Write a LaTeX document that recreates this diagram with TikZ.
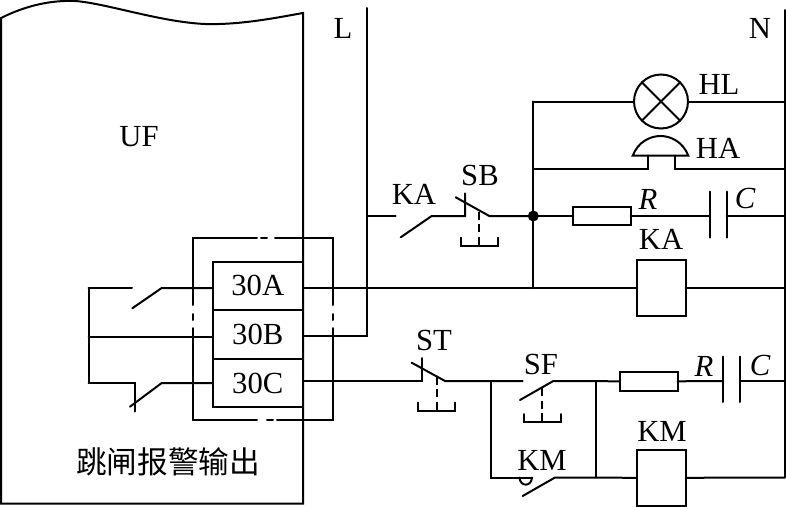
\documentclass[tikz,border=0pt]{standalone}
\usepackage{fontspec}
\setmainfont{Liberation Serif}
\newfontfamily\cjk{Noto Sans CJK SC}
\usetikzlibrary{positioning}
\tikzset{
  wire/.style={line width=1.5pt,line cap=round,line join=miter},
  blox/.style={draw,line width=1.5pt,inner sep=0pt,outer sep=0pt,font=\lblsize},
  lbl/.style={inner sep=0pt,font=\lblsize},
  pushrod/.style={line width=1.5pt,dash pattern=on 6pt off 3.5pt},
}
\newcommand{\lblsize}{\fontsize{23}{24}\selectfont}
\begin{document}
\begin{tikzpicture}[x=0.75pt,y=0.75pt,yscale=-1,xscale=1]
\useasboundingbox (0,0) rectangle (786,507);

% UF housing
\draw [wire] (1,503.5) -- (1,18) .. controls (25,6) and (50,0) .. (75,1) .. controls (105,3) and (160,22) .. (205,24) .. controls (240,25) and (275,18) .. (303,13) -- (303,503.5) -- cycle;

% broken frame round the terminals
\draw [wire] (193,305) -- (193,238) -- (257,238);
\draw [wire] (261,238) -- (267,238);
\draw [wire] (275,238) -- (333,238) -- (333,305);
\draw [wire] (333,314) -- (333,320);
\draw [wire] (333,328) -- (333,420) -- (277,420);
\draw [wire] (267,420) -- (273,420);
\draw [wire] (193,420) -- (257,420);
\draw [wire] (193,328) -- (193,420);
\draw [wire] (193,314) -- (193,320);

% Terminals
\node (t30A) [blox,minimum width=67.7pt,minimum height=36.4pt] at (257.8,285.9) {30A};
\node (t30B) [blox,minimum width=67.7pt,minimum height=36.4pt,below=0pt of t30A] {30B};
\node (t30C) [blox,minimum width=67.7pt,minimum height=36.4pt,below=0pt of t30B] {30C};

% Supply rails
\coordinate (Ltop) at (367,8);
\coordinate (Lend) at (367,336);
\coordinate (Ntop) at (784.5,10);
\coordinate (Nend) at (784.5,477.5);
\draw [wire] (Ltop) -- (Lend) -- (Lend -| t30B.east);
\draw [wire] (Ntop) -- (Nend);

% Left side contacts
\coordinate (comTop) at (88.7,288);
\coordinate (comMid) at (88.7,337);
\coordinate (comBot) at (88.7,383);
\coordinate (ncRod) at (135,383);
\coordinate (ncRodEnd) at (135,411.5);
\coordinate (noOpen) at (132,288);
\coordinate (noFree) at (132.3,308.3);
\coordinate (noHinge) at (161.7,288);
\coordinate (ncFree) at (130,406.7);
\coordinate (ncHinge) at (161.7,383);
\draw [wire] (comTop) -- (comBot);
\draw [wire] (comTop) -- (noOpen);
\draw [wire] (noFree) -- (noHinge) -- (noHinge -| t30A.west);
\draw [wire] (comMid) -- (comMid -| t30B.west);
\draw [wire] (comBot) -- (ncRod) -- (ncRodEnd);
\draw [wire] (ncFree) -- (ncHinge) -- (ncHinge -| t30C.west);

% Lamp and horn
\coordinate (busTop) at (533.3,101.5);
\coordinate (busDot) at (533.3,216);
\coordinate (busEnd) at (533.3,288);
\node (lampHL) [draw,line width=1.5pt,circle,inner sep=0pt,outer sep=0pt,minimum size=40.5pt] at (661,101.5) {};
\draw [wire] (lampHL.north west) -- (lampHL.south east);
\draw [wire] (lampHL.north east) -- (lampHL.south west);
\draw [wire] (busTop) -- (busEnd);
\draw [wire] (busTop) -- (lampHL.west);
\draw [wire] (lampHL.east) -- (lampHL.east -| Nend);
\coordinate (hornL) at (632.7,155.7);
\coordinate (hornR) at (688.3,155.7);
\coordinate (hornIn) at (647.7,155.7);
\coordinate (hornOut) at (675,155.7);
\coordinate (hornInLow) at (647.7,169);
\coordinate (hornOutLow) at (675,169);
\draw [wire] (hornL) .. controls (638,142) and (650,136) .. (660.5,136) .. controls (671,136) and (683,142) .. (hornR) -- cycle;
\draw [wire] (hornInLow -| busTop) -- (hornInLow) -- (hornIn);
\draw [wire] (hornOut) -- (hornOutLow) -- (hornOutLow -| Nend);

% KA row
\coordinate (kaOpen) at (395.7,216);
\coordinate (kaFree) at (400.7,237.3);
\coordinate (kaHinge) at (431.7,216);
\coordinate (sbTop) at (465,193.3);
\coordinate (sbFree) at (455.7,197.3);
\coordinate (sbEnd) at (489.3,216);
\coordinate (sbRod) at (479.3,211.7);
\coordinate (sbKnob) at (479.3,245.5);
\node (resKA) [blox,minimum width=43pt,minimum height=13.7pt] at (602,216) {};
\coordinate (capKA1) at (710,216);
\coordinate (capKA2) at (726.7,216);
\draw [wire] (Ltop |- kaOpen) -- (kaOpen);
\draw [wire] (kaFree) -- (kaHinge) -- (sbTop |- kaHinge) -- (sbTop);
\draw [wire] (sbFree) -- (sbEnd) -- (busDot);
\draw [pushrod] (sbRod) -- (sbKnob);
\draw [wire] (461,237.7) -- (461,245.5) -- (497.7,245.5) -- (497.7,237.7);
\fill (busDot) circle [radius=5.5];
\draw [wire] (busDot) -- (resKA.west);
\draw [wire] (resKA.east) -- (capKA1);
\draw [wire] (capKA1 |- 0,191.7) -- (capKA1 |- 0,237.7);
\draw [wire] (capKA2 |- 0,191.7) -- (capKA2 |- 0,237.7);
\draw [wire] (capKA2) -- (capKA2 -| Nend);

% 30A to coil KA
\node (coilKA) [blox,minimum width=36.3pt,minimum height=41.5pt] at (661.5,288) {};
\draw [wire] (busEnd -| t30A.east) -- (coilKA.west);
\draw [wire] (coilKA.east) -- (coilKA.east -| Nend);

% ST and SF row
\coordinate (stTop) at (421.7,358);
\coordinate (stLow) at (421.7,381);
\coordinate (stFree) at (411.7,362.7);
\coordinate (stEnd) at (445,381);
\coordinate (stRod) at (436.7,376.7);
\coordinate (stKnob) at (436.7,411);
\coordinate (kmJoin) at (490.7,381);
\coordinate (kmLow) at (490.7,477.5);
\coordinate (sfOpen) at (522.7,381);
\coordinate (sfFree) at (520,400);
\coordinate (sfHinge) at (553.3,381);
\coordinate (sfRod) at (542.3,388);
\coordinate (sfKnob) at (542.3,422);
\coordinate (rcJoin) at (595.7,381);
\coordinate (rcLow) at (595.7,477.5);
\node (resKM) [blox,minimum width=43.3pt,minimum height=14.5pt] at (648.8,381.3) {};
\coordinate (capKM1) at (723.3,381);
\coordinate (capKM2) at (740,381);
\draw [wire] (stLow -| t30C.east) -- (stLow) -- (stTop);
\draw [wire] (stFree) -- (stEnd) -- (sfOpen);
\draw [pushrod] (stRod) -- (stKnob);
\draw [wire] (418,402.7) -- (418,411) -- (455,411) -- (455,402.7);
\draw [wire] (sfFree) -- (sfHinge) -- (resKM.west);
\draw [pushrod] (sfRod) -- (sfKnob);
\draw [wire] (524.3,414) -- (524.3,422) -- (561,422) -- (561,414);
\draw [wire] (resKM.east) -- (capKM1);
\draw [wire] (capKM1 |- 0,356.7) -- (capKM1 |- 0,402);
\draw [wire] (capKM2 |- 0,356.7) -- (capKM2 |- 0,402);
\draw [wire] (capKM2) -- (capKM2 -| Nend);

% KM row
\coordinate (kmOpen) at (519.5,477.5);
\coordinate (kmArc) at (532,477.5);
\coordinate (kmFree) at (522.7,496);
\coordinate (kmHinge) at (555,477.5);
\node (coilKM) [blox,minimum width=36.3pt,minimum height=41.8pt] at (661.5,477.8) {};
\draw [wire] (kmJoin) -- (kmLow) -- (kmArc);
\draw [wire] (kmOpen) .. controls (520,487) and (531.5,487) .. (kmArc);
\draw [wire] (kmFree) -- (kmHinge) -- (coilKM.west);
\draw [wire] (rcJoin) -- (rcLow);
\draw [wire] (coilKM.east) -- (Nend);

% Text Node
\node (lblUF) [lbl] at (139,137) {UF};
\node (lblL) [lbl] at (343,28) {L};
\node (lblN) [lbl] at (760,28) {N};
\node (lblHL) [lbl] at (719,84) {HL};
\node (lblHA) [lbl] at (718,148) {HA};
\node (lblKA) [lbl] at (414,194) {KA};
\node (lblSB) [lbl] at (480,175) {SB};
\node (lblR) [lbl] at (648,199) {\itshape R};
\node (lblC) [lbl] at (745,198) {\itshape C};
\node (lblKAc) [lbl] at (661,239) {KA};
\node (lblST) [lbl] at (434,340) {ST};
\node (lblSF) [lbl] at (541,364) {SF};
\node (lblRb) [lbl] at (704,366) {\itshape R};
\node (lblCb) [lbl] at (760,365) {\itshape C};
\node (lblKMc) [lbl] at (662,431) {KM};
\node (lblKM) [lbl] at (542,460) {KM};
\node (lblOut) [lbl] at (168,462) {\cjk 跳闸报警输出};
\end{tikzpicture}
\end{document}
